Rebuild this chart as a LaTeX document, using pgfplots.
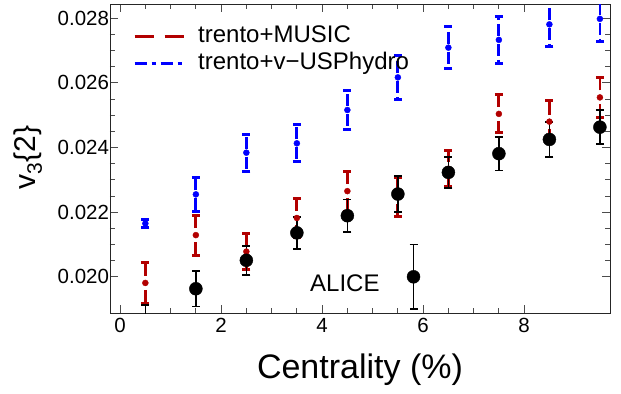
\documentclass[border=0pt]{standalone}
\usepackage{fontspec}
\setmainfont{Liberation Sans}
\usepackage{pgfplots}
\usepackage{pgfplotstable}
\pgfplotsset{compat=1.18}
\definecolor{mred}{RGB}{178,0,0}
\definecolor{mblue}{RGB}{0,0,255}
\pgfplotstableread{
x y e
0.5 0.02165 0.00012
1.5 0.02255 0.00053
2.5 0.02384 0.00057
3.5 0.02413 0.00057
4.5 0.02516 0.00060
5.5 0.02617 0.00067
6.5 0.02709 0.00065
7.5 0.02733 0.00073
8.5 0.02781 0.00070
9.5 0.02798 0.00070
}\bluedata
\pgfplotstableread{
x y e
0.5 0.01981 0.00064
1.5 0.02129 0.00062
2.5 0.02078 0.00055
3.5 0.02182 0.00060
4.5 0.02265 0.00062
5.5 0.02248 0.00060
6.5 0.02334 0.00056
7.5 0.02504 0.00059
8.5 0.02480 0.00065
9.5 0.02555 0.00062
}\reddata
\pgfplotstableread{
x y e
0.5 0.01862 0.00050
1.5 0.01963 0.00055
2.5 0.02051 0.00045
3.5 0.02136 0.00050
4.5 0.02189 0.00050
5.5 0.02256 0.00055
5.81 0.02000 0.00100
6.5 0.02323 0.00048
7.5 0.02381 0.00052
8.5 0.02425 0.00054
9.5 0.02463 0.00052
}\alicedata
\begin{document}
\begin{tikzpicture}
\useasboundingbox (-110bp,-81bp) rectangle (511bp,313bp);
\begin{axis}[
  scale only axis, width=500bp, height=309bp,
  at={(0,0)}, anchor=south west,
  xmin=-0.2, xmax=9.7, ymin=0.01888, ymax=0.02844,
  xtick={0,2,4,6,8}, minor x tick num=3,
  ytick={0.020,0.022,0.024,0.026,0.028}, minor y tick num=3,
  scaled y ticks=false,
  yticklabel style={xshift=2.5bp, /pgf/number format/.cd, fixed, fixed zerofill, precision=3},
  /pgf/number format/assume math mode=true,
  tick label style={font=\fontsize{20.5bp}{24bp}\selectfont},
  xticklabel style={yshift=-2bp},
  major tick length=8bp, minor tick length=5bp,
  axis line style={black!85, line width=0.9bp},
  tick style={black!70, line width=0.8bp},
  xlabel={Centrality (\%)},
  xlabel style={font=\fontsize{34bp}{40bp}\selectfont, at={(axis description cs:0.5,-0.185)}, anchor=center},
  ylabel={v\textsubscript{3}\{2\}},
  ylabel style={font=\fontsize{30bp}{36bp}\selectfont, at={(axis description cs:-0.164,0.503)}, anchor=center},
  legend style={draw=none, fill=none, at={(axis description cs:0.046,0.93)}, anchor=north west,
    inner xsep=0pt, inner ysep=0pt, row sep=5bp,
    font=\fontsize{24bp}{28bp}\selectfont,
    nodes={inner sep=0pt, text height=17bp, text depth=5bp}},
  legend cell align=left,
  legend image code/.code={\draw[#1] (0bp,0bp) -- (50bp,0bp); \path (62bp,0bp);},
]
\addlegendimage{mred, line width=3bp, dash pattern=on 19bp off 11bp}
\addlegendentry{trento+MUSIC}
\addlegendimage{mblue, line width=3bp, dash pattern=on 12bp off 5bp on 4bp off 5bp}
\addlegendentry{trento+v−USPhydro}

\addplot[forget plot, only marks, mark=*, mark size=3bp, color=mblue,
  error bars/.cd, y dir=both, y explicit,
  error bar style={line width=2.8bp, dash pattern=on 12bp off 4bp on 4bp off 4bp, dash phase=20bp},
  error mark options={rotate=90, solid, line width=3bp, mark size=4bp}]
  table[x=x, y=y, y error=e] {\bluedata};

\addplot[forget plot, only marks, mark=*, mark size=3bp, color=mred,
  error bars/.cd, y dir=both, y explicit,
  error bar style={line width=2.8bp, dash pattern=on 14bp off 7bp, dash phase=14bp},
  error mark options={rotate=90, solid, line width=3bp, mark size=4bp}]
  table[x=x, y=y, y error=e] {\reddata};

\addplot[forget plot, only marks, mark=*, mark size=6.5bp, color=black,
  error bars/.cd, y dir=both, y explicit,
  error bar style={line width=1.6bp, solid},
  error mark options={rotate=90, solid, line width=1.8bp, mark size=4bp}]
  table[x=x, y=y, y error=e] {\alicedata};

\node[font=\fontsize{24bp}{28bp}\selectfont] at (axis cs:4.45,0.0198) {ALICE};
\end{axis}
\end{tikzpicture}
\end{document}
